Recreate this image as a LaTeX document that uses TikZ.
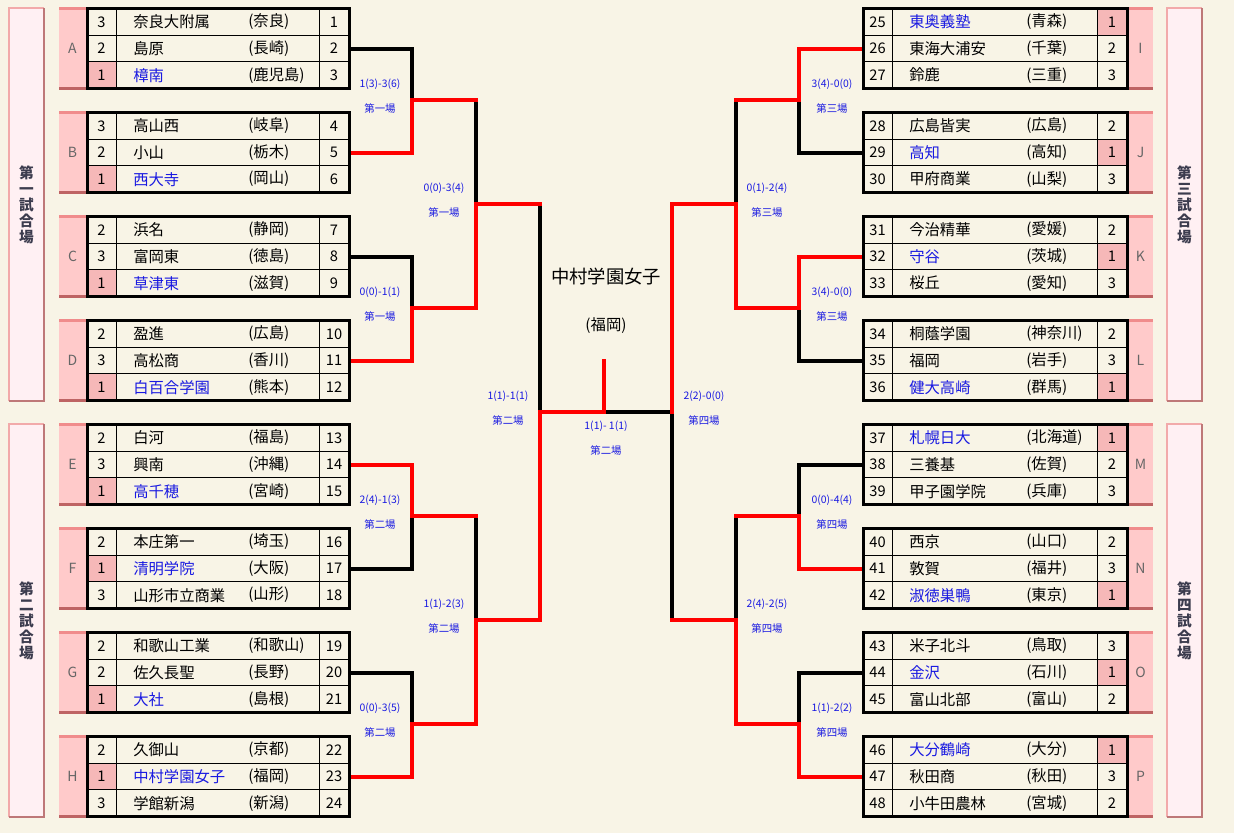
\documentclass[tikz,border=0pt]{standalone}
\usepackage{fontspec}
\newfontfamily\jpfont{Noto Sans CJK JP}
\usetikzlibrary{calc}
\definecolor{bgcream}{RGB}{248,244,230}
\definecolor{winblue}{RGB}{25,25,225}
\definecolor{seedpink}{RGB}{246,184,184}
\definecolor{tagpink}{RGB}{255,202,202}
\definecolor{taglight}{RGB}{240,140,140}
\definecolor{tagdark}{RGB}{190,100,100}
\definecolor{hallfill}{RGB}{255,240,243}
\definecolor{halllight}{RGB}{242,170,170}
\definecolor{halldark}{RGB}{190,120,120}
\definecolor{halltext}{RGB}{60,60,78}
\tikzset{
  cell/.style={draw, line width=0.75pt, inner sep=0pt, minimum height=20pt,
    font=\jpfont\fontsize{11}{13}\selectfont},
  narrowcell/.style={cell, minimum width=21.75pt},
  widecell/.style={cell, minimum width=22.5pt},
  team/.style={anchor=west, inner sep=0pt, font=\jpfont\fontsize{11.5}{13}\selectfont},
  rowline/.style={line width=0.75pt},
  tablebox/.style={line width=2.25pt},
  tag/.style={text=black!60, font=\jpfont\fontsize{10.5}{12}\selectfont},
  hall/.style={text=halltext, align=center, font=\jpfont\bfseries\fontsize{11}{12}\selectfont},
  score/.style={text=winblue, font=\jpfont\fontsize{7.8}{9}\selectfont},
  win/.style={draw=red, line width=3pt, line cap=rect},
  lose/.style={draw=black, line width=3pt, line cap=rect},
}
\begin{document}
\begin{tikzpicture}[x=0.75pt, y=-0.75pt]
\fill[bgcream] (0,0) rectangle (1234,833);
\useasboundingbox (0,0) rectangle (1234,833);

% venue boxes
\foreach \x/\y/\w in {9/8/第\\一\\試\\合\\場, 9/424/第\\二\\試\\合\\場,
    1167/8/第\\三\\試\\合\\場, 1167/424/第\\四\\試\\合\\場} {
  \fill[hallfill] (\x,\y) rectangle ({\x+35},{\y+393});
  \draw[halllight, line width=1.5pt] (\x,{\y+393}) -- (\x,\y) -- ({\x+35},\y);
  \draw[halldark, line width=1.5pt] ({\x+35},\y) -- ({\x+35},{\y+393}) -- (\x,{\y+393});
  \node[hall] (hall\x\y) at ({\x+17.5},{\y+197}) {\w};
}

% group tags
\foreach \tb/\lt in {0/A,1/B,2/C,3/D,4/E,5/F,6/G,7/H} {
  \fill[tagpink] (59,{8+104*\tb}) rectangle (86,{88+104*\tb});
  \draw[taglight, line width=2.25pt] (59,{8+104*\tb}) -- (86,{8+104*\tb});
  \draw[tagdark, line width=2.25pt] (59,{88+104*\tb}) -- (86,{88+104*\tb});
  \node[tag] (g\lt) at (72.5,{48+104*\tb}) {\lt};
}
\foreach \tb/\lt in {0/I,1/J,2/K,3/L,4/M,5/N,6/O,7/P} {
  \fill[tagpink] (1128,{8+104*\tb}) rectangle (1153,{88+104*\tb});
  \draw[taglight, line width=2.25pt] (1128,{8+104*\tb}) -- (1153,{8+104*\tb});
  \draw[tagdark, line width=2.25pt] (1128,{88+104*\tb}) -- (1153,{88+104*\tb});
  \node[tag] (g\lt) at (1140.5,{48+104*\tb}) {\lt};
}

% left teams
\foreach \k/\tseed/\tname/\tpref in {
    1/3/奈良大附属/奈良, 2/2/島原/長崎, 3/1/樟南/鹿児島,
    4/3/高山西/岐阜, 5/2/小山/栃木, 6/1/西大寺/岡山,
    7/2/浜名/静岡, 8/3/富岡東/徳島, 9/1/草津東/滋賀,
    10/2/盈進/広島, 11/3/高松商/香川, 12/1/白百合学園/熊本,
    13/2/白河/福島, 14/3/興南/沖縄, 15/1/高千穂/宮崎,
    16/2/本庄第一/埼玉, 17/1/清明学院/大阪, 18/3/山形市立商業/山形,
    19/2/和歌山工業/和歌山, 20/2/佐久長聖/長野, 21/1/大社/島根,
    22/2/久御山/京都, 23/1/中村学園女子/福岡, 24/3/学館新潟/新潟} {
  \pgfmathtruncatemacro\tb{(\k-1)/3}
  \pgfmathtruncatemacro\rw{\k-1-3*\tb}
  \pgfmathsetmacro\yc{21.833+104*\tb+26.667*\rw}
  \ifnum\tseed=1 \def\tcol{winblue}\def\scol{seedpink}\else\def\tcol{black}\def\scol{bgcream}\fi
  \draw[rowline] (87,{\yc-13.333}) rectangle (349,{\yc+13.333});
  \node[narrowcell, fill=\scol] (s\k) at (101.5,\yc) {\tseed};
  \node[team, text=\tcol] (t\k) at (133,\yc) {\tname};
  \node[team] (p\k) at (248,\yc) {(\tpref)};
  \node[widecell] (n\k) at (334,\yc) {\k};
}

% right teams
\foreach \k/\tseed/\tname/\tpref in {
    25/1/東奥義塾/青森, 26/2/東海大浦安/千葉, 27/3/鈴鹿/三重,
    28/2/広島皆実/広島, 29/1/高知/高知, 30/3/甲府商業/山梨,
    31/2/今治精華/愛媛, 32/1/守谷/茨城, 33/3/桜丘/愛知,
    34/2/桐蔭学園/神奈川, 35/3/福岡/岩手, 36/1/健大高崎/群馬,
    37/1/札幌日大/北海道, 38/2/三養基/佐賀, 39/3/甲子園学院/兵庫,
    40/2/西京/山口, 41/3/敦賀/福井, 42/1/淑徳巣鴨/東京,
    43/3/米子北斗/鳥取, 44/1/金沢/石川, 45/2/富山北部/富山,
    46/1/大分鶴崎/大分, 47/3/秋田商/秋田, 48/2/小牛田農林/宮城} {
  \pgfmathtruncatemacro\tb{(\k-25)/3}
  \pgfmathtruncatemacro\rw{\k-25-3*\tb}
  \pgfmathsetmacro\yc{21.833+104*\tb+26.667*\rw}
  \ifnum\tseed=1 \def\tcol{winblue}\def\scol{seedpink}\else\def\tcol{black}\def\scol{bgcream}\fi
  \draw[rowline] (863,{\yc-13.333}) rectangle (1127,{\yc+13.333});
  \node[narrowcell] (n\k) at (877.5,\yc) {\k};
  \node[team, text=\tcol] (t\k) at (909,\yc) {\tname};
  \node[team] (p\k) at (1026,\yc) {(\tpref)};
  \node[widecell, fill=\scol] (s\k) at (1112,\yc) {\tseed};
}

% bracket joints
\coordinate (m1) at (412,100); \coordinate (m2) at (412,308);
\coordinate (m3) at (412,516); \coordinate (m4) at (412,724);
\coordinate (q1) at (476,204); \coordinate (q2) at (476,620);
\coordinate (f1) at (540,412);
\coordinate (m5) at (799,100); \coordinate (m6) at (799,308);
\coordinate (m7) at (799,516); \coordinate (m8) at (799,724);
\coordinate (q3) at (736,204); \coordinate (q4) at (736,620);
\coordinate (f2) at (672,412);
\coordinate (fc) at (604,412); \coordinate (top) at (604,361);

% lost
\draw[lose] (n2.east) -| (m1);
\draw[lose] (n8.east) -| (m2);
\draw[lose] (n17.east) -| (m3);
\draw[lose] (n20.east) -| (m4);
\draw[lose] (n29.west) -| (m5);
\draw[lose] (n35.west) -| (m6);
\draw[lose] (n38.west) -| (m7);
\draw[lose] (n44.west) -| (m8);
\draw[lose] (m1 -| q1) -- (q1);
\draw[lose] (m3 -| q2) -- (q2);
\draw[lose] (m5 -| q3) -- (q3);
\draw[lose] (m7 -| q4) -- (q4);
\draw[lose] (q1 -| f1) -- (f1);
\draw[lose] (q4 -| f2) -- (f2);
\draw[lose] (fc) -- (f2);

% won
\draw[win] (n5.east) -| (m1);
\draw[win] (n11.east) -| (m2);
\draw[win] (n14.east) -| (m3);
\draw[win] (n23.east) -| (m4);
\draw[win] (n26.west) -| (m5);
\draw[win] (n32.west) -| (m6);
\draw[win] (n41.west) -| (m7);
\draw[win] (n47.west) -| (m8);
\draw[win] (m1) -- (m1 -| q1);
\draw[win] (m2) -| (q1);
\draw[win] (m3) -- (m3 -| q2);
\draw[win] (m4) -| (q2);
\draw[win] (m5) -- (m5 -| q3);
\draw[win] (m6) -| (q3);
\draw[win] (m7) -- (m7 -| q4);
\draw[win] (m8) -| (q4);
\draw[win] (q1) -- (q1 -| f1);
\draw[win] (q2) -| (f1);
\draw[win] (q3) -| (f2);
\draw[win] (q4) -- (q4 -| f2);
\draw[win] (f1) -- (fc) -- (top);

% table frames
\foreach \tb in {0,...,7} {
  \draw[tablebox] (87,{8.5+104*\tb}) rectangle (349,{88.5+104*\tb});
  \draw[tablebox] (863,{8.5+104*\tb}) rectangle (1127,{88.5+104*\tb});
}

% champion
\node[font=\jpfont\fontsize{13.75}{16}\selectfont] (champ) at (606,277) {中村学園女子};
\node[font=\jpfont\fontsize{11.5}{13}\selectfont] (champpref) at (606,326) {(福岡)};

% scores
\foreach \j/\x/\y/\sc/\ven in {
    a/380/100/1(3)-3(6)/第一場, b/380/308/0(0)-1(1)/第一場,
    c/380/516/2(4)-1(3)/第二場, d/380/724/0(0)-3(5)/第二場,
    e/444/204/0(0)-3(4)/第一場, f/444/620/1(1)-2(3)/第二場,
    g/508/412/1(1)-1(1)/第二場, h/704/412/2(2)-0(0)/第四場,
    i/767/204/0(1)-2(4)/第三場, j/767/620/2(4)-2(5)/第四場,
    k/832/100/3(4)-0(0)/第三場, l/832/308/3(4)-0(0)/第三場,
    m/832/516/0(0)-4(4)/第四場, n/832/724/1(1)-2(2)/第四場} {
  \node[score] (sc\j) at (\x,{\y-16}) {\sc};
  \node[score] (ven\j) at (\x,{\y+9}) {\ven};
}
\node[score] (scfinal) at (606,426) {1(1)- 1(1)};
\node[score] (venfinal) at (606,451) {第二場};
\end{tikzpicture}
\end{document}
